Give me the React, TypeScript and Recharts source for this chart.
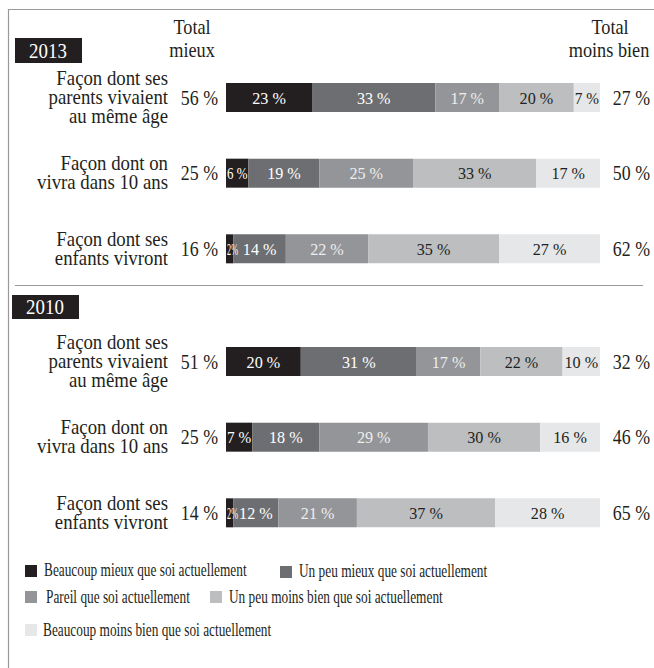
import React from 'react';
import { BarChart, Bar, XAxis, YAxis, LabelList, Legend } from 'recharts';

// séries (ordre de la légende)
const categories = [
  'Beaucoup mieux que soi actuellement',
  'Un peu mieux que soi actuellement',
  'Pareil que soi actuellement',
  'Un peu moins bien que soi actuellement',
  'Beaucoup moins bien que soi actuellement',
];
const colors = ['#231f20', '#6d6e71', '#939598', '#bcbec0', '#e6e7e8'];
const labelColors = ['#ffffff', '#ffffff', '#eeeeee', '#231f20', '#231f20'];

const rowLabels = [
  ['Façon dont ses', 'parents vivaient', 'au même âge'],
  ['Façon dont on', 'vivra dans 10 ans'],
  ['Façon dont ses', 'enfants vivront'],
];

// 2013
const beaucoupMieux2013 = [23, 6, 2];
const peuMieux2013 = [33, 19, 14];
const pareil2013 = [17, 25, 22];
const peuMoins2013 = [20, 33, 35];
const beaucoupMoins2013 = [7, 17, 27];

// 2010
const beaucoupMieux2010 = [20, 7, 2];
const peuMieux2010 = [31, 18, 12];
const pareil2010 = [17, 29, 21];
const peuMoins2010 = [22, 30, 37];
const beaucoupMoins2010 = [10, 16, 28];

const keys = ['s0', 's1', 's2', 's3', 's4'];

const buildRows = (series: number[][]) =>
  rowLabels.map((_, i) => ({
    row: i,
    s0: series[0][i],
    s1: series[1][i],
    s2: series[2][i],
    s3: series[3][i],
    s4: series[4][i],
    totalMieux: series[0][i] + series[1][i],
    totalMoins: series[3][i] + series[4][i],
  }));

const data2013 = buildRows([beaucoupMieux2013, peuMieux2013, pareil2013, peuMoins2013, beaucoupMoins2013]);
const data2010 = buildRows([beaucoupMieux2010, peuMieux2010, pareil2010, peuMoins2010, beaucoupMoins2010]);

const FONT = '"Liberation Serif", "Times New Roman", serif';
const INK = '#231f20';

// texte "condensé" (pas de Garamond condensed dispo)
const SText = ({ x, y, size, scale, anchor = 'start', fill = INK, children }: any) => (
  <text
    transform={`translate(${x},${y}) scale(${scale},1)`}
    fontSize={size}
    fontFamily={FONT}
    textAnchor={anchor}
    fill={fill}
  >
    {children}
  </text>
);

const RowTick = (props: any) => {
  const { y, payload } = props;
  const lines = rowLabels[Number(payload.value)] || [];
  const lh = 19;
  const first = y + 6 - ((lines.length - 1) * lh) / 2;
  return (
    <g>
      {lines.map((l, i) => (
        <SText key={i} x={168} y={first + i * lh} size={20} scale={0.94} anchor="end">
          {l}
        </SText>
      ))}
    </g>
  );
};

const segmentLabel = (k: number) => (props: any) => {
  const { x, y, width, height, value } = props;
  if (value == null) return null;
  const txt = value <= 2 ? `${value}%` : `${value} %`;
  const em = String(value).length * 0.5 + (value <= 2 ? 0 : 0.25) + 0.833;
  const natural = em * 17 * 0.95;
  if (natural > width - 2) {
    // segment étroit : texte serré, calé à gauche du segment
    const room = Math.max(width - 2, value <= 2 ? 11 : 20);
    const scale = Math.min(0.95, room / (em * 17));
    return (
      <SText x={x + 1} y={y + height / 2 + 6} size={17} scale={scale} fill={labelColors[k]}>
        {txt}
      </SText>
    );
  }
  return (
    <SText x={x + width / 2} y={y + height / 2 + 6} size={17} scale={0.95} anchor="middle" fill={labelColors[k]}>
      {txt}
    </SText>
  );
};

const leftTotal = (props: any) => {
  const { y, height, value } = props;
  return (
    <SText x={218} y={y + height / 2 + 7} size={21} scale={0.85} anchor="end">
      {`${value} %`}
    </SText>
  );
};

const rightTotal = (props: any) => {
  const { y, height, value } = props;
  return (
    <SText x={650} y={y + height / 2 + 7} size={21} scale={0.85} anchor="end">
      {`${value} %`}
    </SText>
  );
};

// positions de la légende (coordonnées dans le bloc légende)
const legendPos = [
  { x: 25, y: 15, tx: 44, ty: 26 },
  { x: 280, y: 16, tx: 299, ty: 27 },
  { x: 25, y: 41, tx: 46, ty: 53 },
  { x: 210, y: 41, tx: 229, ty: 53 },
  { x: 25, y: 74, tx: 43, ty: 86 },
];

const renderLegend = (props: any) => {
  const { payload = [] } = props;
  const items = [...payload].sort(
    (a: any, b: any) => categories.indexOf(a.value) - categories.indexOf(b.value)
  );
  return (
    <svg width={654} height={110}>
      {items.map((entry: any) => {
        const i = categories.indexOf(entry.value);
        const p = legendPos[i];
        if (!p) return null;
        return (
          <g key={i}>
            <rect x={p.x} y={p.y} width={12} height={12} fill={entry.color || colors[i]} />
            <SText x={p.tx} y={p.ty} size={18} scale={0.74}>
              {entry.value}
            </SText>
          </g>
        );
      })}
    </svg>
  );
};

const YearChart = ({ data, margin, height, legend }: any) => (
  <BarChart width={654} height={height} data={data} layout="vertical" margin={margin} barSize={29}>
    <XAxis type="number" domain={[0, 100]} hide />
    <YAxis
      type="category"
      dataKey="row"
      width={226}
      axisLine={false}
      tickLine={false}
      tick={(p: any) => <RowTick {...p} />}
    />
    {keys.map((k, i) => (
      <Bar key={k} dataKey={k} name={categories[i]} stackId="a" fill={colors[i]} isAnimationActive={false}>
        <LabelList dataKey={k} content={segmentLabel(i)} />
        {i === 0 && <LabelList dataKey="totalMieux" content={leftTotal} />}
        {i === 4 && <LabelList dataKey="totalMoins" content={rightTotal} />}
      </Bar>
    ))}
    {legend && (
      <Legend
        verticalAlign="middle"
        align="center"
        layout="horizontal"
        itemSorter={null}
        wrapperStyle={{ position: 'absolute', top: 250, left: 0, width: 654, height: 110 }}
        content={renderLegend}
      />
    )}
  </BarChart>
);

const App = () => (
  <div style={{ position: 'relative', width: 654, height: 668, background: '#fff', overflow: 'hidden' }}>
    <style>{'body{margin:0}'}</style>
    <svg width={654} height={668} style={{ position: 'absolute', left: 0, top: 0 }}>
      <line x1={8} y1={9.5} x2={654} y2={9.5} stroke="#999" strokeWidth={1.2} />
      <line x1={8.5} y1={9} x2={8.5} y2={668} stroke="#999" strokeWidth={1.2} />
      <line x1={15} y1={285.5} x2={643} y2={285.5} stroke="#999" strokeWidth={1} />
      <rect x={15} y={38} width={67} height={25} fill={INK} />
      <SText x={48} y={58} size={21} scale={0.9} anchor="middle" fill="#fff">2013</SText>
      <rect x={12} y={295} width={67} height={24} fill={INK} />
      <SText x={45} y={314} size={21} scale={0.9} anchor="middle" fill="#fff">2010</SText>
      <SText x={192} y={34} size={22} scale={0.83} anchor="middle">Total</SText>
      <SText x={192} y={57} size={22} scale={0.83} anchor="middle">mieux</SText>
      <SText x={610} y={34} size={22} scale={0.83} anchor="middle">Total</SText>
      <SText x={609} y={57} size={22} scale={0.83} anchor="middle">moins bien</SText>
    </svg>
    <div style={{ position: 'absolute', left: 0, top: 0 }}>
      <YearChart data={data2013} height={300} margin={{ top: 60, right: 54, bottom: 13, left: 0 }} />
    </div>
    <div style={{ position: 'absolute', left: 0, top: 300 }}>
      <YearChart data={data2010} height={368} margin={{ top: 24, right: 54, bottom: 117, left: 0 }} legend />
    </div>
  </div>
);

export default App;
